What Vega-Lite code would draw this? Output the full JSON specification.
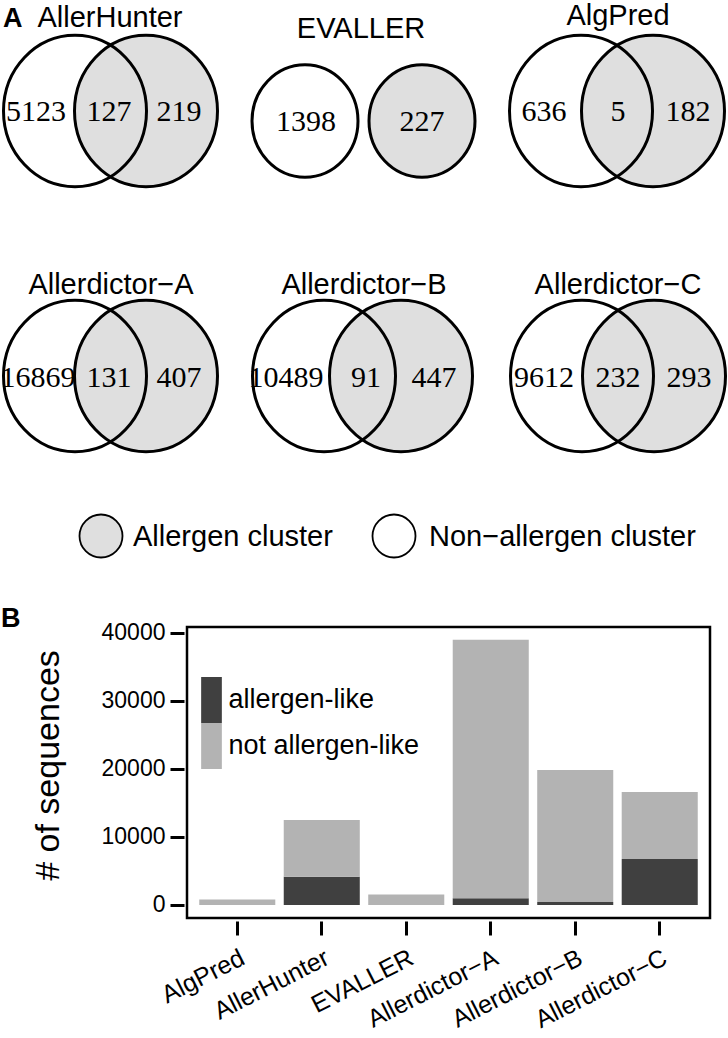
{
  "$schema": "https://vega.github.io/schema/vega-lite/v6.json",
  "padding": 0,
  "background": "white",
  "bounds": "flush",
  "spacing": 10,
  "resolve": {"scale": {"color": "independent", "fill": "independent"}, "legend": {"color": "independent", "fill": "independent"}},
  "config": {
    "font": "Liberation Sans",
    "view": {"stroke": null},
    "axis": {"grid": false, "labelColor": "black", "titleColor": "black", "tickColor": "black", "labelFont": "Liberation Sans", "titleFont": "Liberation Sans"},
    "legend": {"labelColor": "black", "labelFont": "Liberation Sans"}
  },
  "datasets": {
    "circles": [
      {"panel": "AllerHunter", "set": "non-allergen", "kind": "big", "h": 74, "v": 111},
      {"panel": "EVALLER", "set": "non-allergen", "kind": "small", "h": 304, "v": 121},
      {"panel": "AlgPred", "set": "non-allergen", "kind": "big", "h": 580, "v": 111},
      {"panel": "Allerdictor-A", "set": "non-allergen", "kind": "big", "h": 74, "v": 376},
      {"panel": "Allerdictor-B", "set": "non-allergen", "kind": "big", "h": 323, "v": 376},
      {"panel": "Allerdictor-C", "set": "non-allergen", "kind": "big", "h": 581, "v": 376},
      {"panel": "AllerHunter", "set": "allergen", "kind": "big", "h": 145, "v": 111},
      {"panel": "EVALLER", "set": "allergen", "kind": "small", "h": 421, "v": 121},
      {"panel": "AlgPred", "set": "allergen", "kind": "big", "h": 652, "v": 111},
      {"panel": "Allerdictor-A", "set": "allergen", "kind": "big", "h": 145, "v": 376},
      {"panel": "Allerdictor-B", "set": "allergen", "kind": "big", "h": 400, "v": 376},
      {"panel": "Allerdictor-C", "set": "allergen", "kind": "big", "h": 653, "v": 376},
      {"panel": "key", "set": "allergen", "kind": "key", "h": 100, "v": 536},
      {"panel": "key", "set": "non-allergen", "kind": "key", "h": 393, "v": 536}
    ],
    "counts": [
      {"n": 5123, "h": 35, "v": 112},
      {"n": 127, "h": 108, "v": 112},
      {"n": 219, "h": 178, "v": 112},
      {"n": 1398, "h": 305, "v": 122},
      {"n": 227, "h": 421, "v": 122},
      {"n": 636, "h": 543, "v": 112},
      {"n": 5, "h": 617, "v": 112},
      {"n": 182, "h": 687, "v": 112},
      {"n": 16869, "h": 37, "v": 378},
      {"n": 131, "h": 108, "v": 378},
      {"n": 407, "h": 178, "v": 378},
      {"n": 10489, "h": 285, "v": 378},
      {"n": 91, "h": 365, "v": 378},
      {"n": 447, "h": 433, "v": 378},
      {"n": 9612, "h": 543, "v": 378},
      {"n": 232, "h": 617, "v": 378},
      {"n": 293, "h": 688, "v": 378}
    ],
    "titles": [
      {"label": "AllerHunter", "h": 109, "v": 27},
      {"label": "EVALLER", "h": 360, "v": 38},
      {"label": "AlgPred", "h": 617, "v": 25},
      {"label": "Allerdictor−A", "h": 110, "v": 294},
      {"label": "Allerdictor−B", "h": 363, "v": 294},
      {"label": "Allerdictor−C", "h": 617, "v": 294}
    ],
    "keys": [
      {"label": "Allergen cluster", "h": 132, "v": 537},
      {"label": "Non−allergen cluster", "h": 428, "v": 537}
    ],
    "letters": [
      {"label": "A", "h": 2, "v": 27},
      {"label": "B", "h": 0, "v": 627}
    ],
    "bars": [
      {"method": "AlgPred", "type": "allergen-like", "count": 0},
      {"method": "AlgPred", "type": "not allergen-like", "count": 820},
      {"method": "AllerHunter", "type": "allergen-like", "count": 4150},
      {"method": "AllerHunter", "type": "not allergen-like", "count": 8350},
      {"method": "EVALLER", "type": "allergen-like", "count": 0},
      {"method": "EVALLER", "type": "not allergen-like", "count": 1550},
      {"method": "Allerdictor−A", "type": "allergen-like", "count": 1000},
      {"method": "Allerdictor−A", "type": "not allergen-like", "count": 38000},
      {"method": "Allerdictor−B", "type": "allergen-like", "count": 450},
      {"method": "Allerdictor−B", "type": "not allergen-like", "count": 19400},
      {"method": "Allerdictor−C", "type": "allergen-like", "count": 6750},
      {"method": "Allerdictor−C", "type": "not allergen-like", "count": 9850}
    ]
  },
  "vconcat": [
    {
      "width": 523,
      "height": 617,
      "view": {"stroke": null},
      "encoding": {
        "x": {"field": "h", "type": "quantitative", "scale": {"domain": [186, 709], "nice": false, "zero": false}, "axis": null},
        "y": {"field": "v", "type": "quantitative", "scale": {"domain": [0, 617], "nice": false, "zero": false, "reverse": true}, "axis": null}
      },
      "layer": [
        {
          "data": {"name": "circles"},
          "transform": [{"filter": "datum.kind == 'big'"}],
          "mark": {"type": "point", "shape": "M-1,0C-1,-0.5854,-0.5523,-1.06,0,-1.06C0.5523,-1.06,1,-0.5854,1,0C1,0.5854,0.5523,1.06,0,1.06C-0.5523,1.06,-1,0.5854,-1,0Z", "filled": true, "size": 20449, "opacity": 1, "strokeWidth": 0},
          "encoding": {
            "color": {"field": "set", "type": "nominal", "scale": {"domain": ["non-allergen", "allergen"], "range": ["#ffffff", "#dfdfdf"]}, "legend": null}
          }
        },
        {
          "data": {"name": "circles"},
          "transform": [{"filter": "datum.kind == 'small'"}],
          "mark": {"type": "point", "shape": "M-1,0C-1,-0.5854,-0.5523,-1.06,0,-1.06C0.5523,-1.06,1,-0.5854,1,0C1,0.5854,0.5523,1.06,0,1.06C-0.5523,1.06,-1,0.5854,-1,0Z", "filled": true, "size": 11236, "opacity": 1, "strokeWidth": 0},
          "encoding": {
            "color": {"field": "set", "type": "nominal", "scale": {"domain": ["non-allergen", "allergen"], "range": ["#ffffff", "#dfdfdf"]}, "legend": null}
          }
        },
        {
          "data": {"name": "circles"},
          "transform": [{"filter": "datum.kind == 'big'"}],
          "mark": {"type": "point", "shape": "M-1,0C-1,-0.5854,-0.5523,-1.06,0,-1.06C0.5523,-1.06,1,-0.5854,1,0C1,0.5854,0.5523,1.06,0,1.06C-0.5523,1.06,-1,0.5854,-1,0Z", "filled": false, "size": 20449, "opacity": 1, "color": "black", "strokeWidth": 3, "strokeJoin": "round"}
        },
        {
          "data": {"name": "circles"},
          "transform": [{"filter": "datum.kind == 'small'"}],
          "mark": {"type": "point", "shape": "M-1,0C-1,-0.5854,-0.5523,-1.06,0,-1.06C0.5523,-1.06,1,-0.5854,1,0C1,0.5854,0.5523,1.06,0,1.06C-0.5523,1.06,-1,0.5854,-1,0Z", "filled": false, "size": 11236, "opacity": 1, "color": "black", "strokeWidth": 3, "strokeJoin": "round"}
        },
        {
          "data": {"name": "circles"},
          "transform": [{"filter": "datum.kind == 'key'"}],
          "mark": {"type": "point", "shape": "circle", "filled": true, "size": 1850, "opacity": 1, "stroke": "black", "strokeWidth": 1.8, "strokeJoin": "round"},
          "encoding": {
            "fill": {"field": "set", "type": "nominal", "scale": {"domain": ["non-allergen", "allergen"], "range": ["#ffffff", "#dfdfdf"]}, "legend": null}
          }
        },
        {
          "data": {"name": "counts"},
          "mark": {"type": "text", "font": "Liberation Serif", "fontSize": 30, "align": "center", "baseline": "middle", "color": "black"},
          "encoding": {"text": {"field": "n", "type": "nominal"}}
        },
        {
          "data": {"name": "titles"},
          "mark": {"type": "text", "font": "Liberation Sans", "fontSize": 29, "align": "center", "baseline": "alphabetic", "color": "black"},
          "encoding": {"text": {"field": "label", "type": "nominal"}}
        },
        {
          "data": {"name": "keys"},
          "mark": {"type": "text", "font": "Liberation Sans", "fontSize": 29, "align": "left", "baseline": "middle", "color": "black"},
          "encoding": {"text": {"field": "label", "type": "nominal"}}
        },
        {
          "data": {"name": "letters"},
          "mark": {"type": "text", "font": "Liberation Sans", "fontSize": 27, "fontWeight": "bold", "align": "left", "baseline": "alphabetic", "color": "black"},
          "encoding": {"text": {"field": "label", "type": "nominal"}}
        }
      ]
    },
    {
      "width": 523,
      "height": 291,
      "view": {"stroke": "black", "strokeWidth": 2.5},
      "data": {"name": "bars"},
      "mark": {"type": "bar"},
      "encoding": {
        "x": {
          "field": "method", "type": "nominal",
          "sort": ["AlgPred", "AllerHunter", "EVALLER", "Allerdictor−A", "Allerdictor−B", "Allerdictor−C"],
          "scale": {"paddingInner": 0.1, "paddingOuter": 0.145},
          "axis": {"title": null, "domain": false, "offset": 3, "tickSize": 14, "tickWidth": 3, "labelAngle": -27, "labelAlign": "right", "labelBaseline": "top", "labelFontSize": 25, "labelPadding": 10}
        },
        "y": {
          "field": "count", "type": "quantitative", "stack": "zero",
          "scale": {"domain": [-1912, 40882], "nice": false, "zero": false},
          "axis": {"title": "# of sequences", "titleFontSize": 34, "titleFontWeight": "normal", "titlePadding": 36, "titleY": 138, "values": [0, 10000, 20000, 30000, 40000], "format": "d", "domain": false, "offset": 3, "tickSize": 14, "tickWidth": 3, "labelFontSize": 23, "labelPadding": 5}
        },
        "order": {"field": "type", "type": "nominal", "sort": "ascending"},
        "color": {
          "field": "type", "type": "nominal",
          "scale": {"domain": ["allergen-like", "not allergen-like"], "range": ["#404040", "#b3b3b3"]},
          "legend": {"title": null, "orient": "none", "legendX": 1.5, "legendY": 50, "padding": 0, "symbolType": "M-0.45,-1V1H0.45V-1Z", "symbolSize": 2116, "symbolStrokeWidth": 0, "symbolOpacity": 1, "rowPadding": 0, "labelFontSize": 27, "labelOffset": -6, "labelLimit": 400}
        }
      }
    }
  ]
}
